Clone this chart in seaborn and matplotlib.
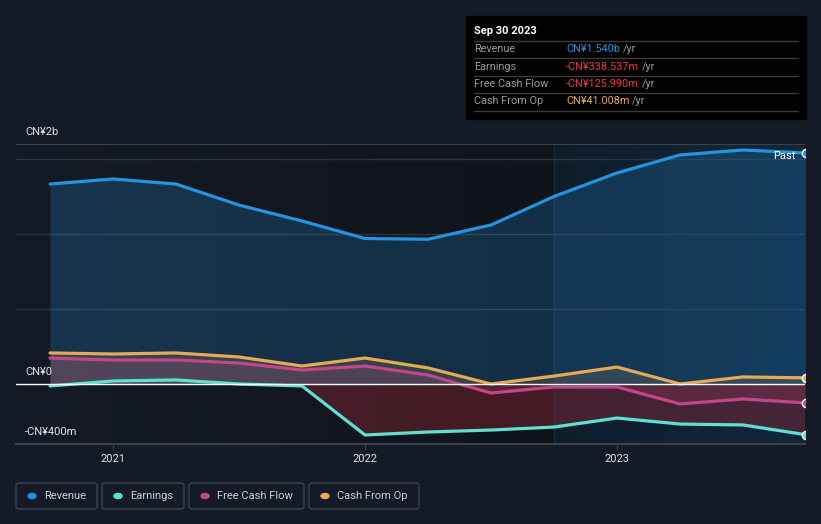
import matplotlib
matplotlib.use('agg')
import matplotlib.pyplot as plt
import seaborn as sns
import pandas as pd
import numpy as np
from matplotlib.patches import FancyBboxPatch, Rectangle
from matplotlib.colors import LinearSegmentedColormap

# quarterly values (CN¥ billions), Sep 2020 .. Sep 2023
quarters = [2020.75, 2021.0, 2021.25, 2021.5, 2021.75, 2022.0, 2022.25,
            2022.5, 2022.75, 2023.0, 2023.25, 2023.5, 2023.75]
revenue = [1.333, 1.367, 1.333, 1.193, 1.087, 0.970, 0.965,
           1.060, 1.250, 1.407, 1.527, 1.560, 1.540]
earnings = [-0.013, 0.020, 0.027, 0.000, -0.013, -0.340, -0.320,
            -0.307, -0.287, -0.227, -0.267, -0.273, -0.3385]
free_cash_flow = [0.173, 0.160, 0.160, 0.140, 0.093, 0.120, 0.060,
                  -0.060, -0.020, -0.020, -0.133, -0.100, -0.126]
cash_from_op = [0.207, 0.200, 0.207, 0.180, 0.120, 0.173, 0.107,
                0.000, 0.053, 0.113, 0.000, 0.047, 0.041]

year_ticks = [2021, 2022, 2023]
series_names = ['Revenue', 'Earnings', 'Free Cash Flow', 'Cash From Op']
colors = ['#2394df', '#5fe0d0', '#c2468a', '#e5a957']
tooltip_values = ['CN¥1.540b', '-CN¥338.537m', '-CN¥125.990m', 'CN¥41.008m']
tooltip_colors = ['#2394df', '#f03a3a', '#f03a3a', '#e5a957']

bg = '#151b26'
df = pd.DataFrame({'date': quarters * 4,
                   'value': revenue + earnings + free_cash_flow + cash_from_op,
                   'series': np.repeat(series_names, len(quarters))})

sns.set_style('dark')
plt.rcParams['font.family'] = ['Roboto', 'DejaVu Sans']

fig = plt.figure(figsize=(8.21, 5.24), dpi=100, facecolor=bg)
ax = fig.add_axes([16/821, 80/524, 789/821, 300/524])
ax.set_facecolor(bg)
xmin, xmax = 2020.615, 2023.746
ax.set_xlim(xmin, xmax)
ax.set_ylim(-0.4, 1.6)

# background: fading dark area, then last-year highlight
grad = LinearSegmentedColormap.from_list('g', [bg, '#0f131a'])
ax.imshow(np.linspace(0, 1, 256).reshape(1, -1), cmap=grad, aspect='auto',
          extent=[xmin, 2022.75, -0.4, 1.6], zorder=0)
hl = LinearSegmentedColormap.from_list('h', ['#0f1d2b', '#12263a'])
ax.imshow(np.linspace(0, 1, 256).reshape(1, -1), cmap=hl, aspect='auto',
          extent=[2022.75, xmax, -0.4, 1.6], zorder=0)
ax.axvline(2022.75, color='#1b2a3a', lw=1, zorder=0.5)

for y in [0.5, 1.0, 1.5]:
    ax.axhline(y, color='#2c3440', lw=1, zorder=1)

# fills
ax.fill_between(quarters, revenue, 0, color='#2394df', alpha=0.22, lw=0, zorder=2)
ax.fill_between(quarters, cash_from_op, 0, color='#e5a957', alpha=0.15, lw=0, zorder=2)
ax.fill_between(quarters, free_cash_flow, 0, color='#c2468a', alpha=0.2, lw=0, zorder=2)
ax.fill_between(quarters, earnings, 0, where=[e < 0.001 for e in earnings],
                interpolate=True, color='#a82a38', alpha=0.35, lw=0, zorder=2)

sns.lineplot(data=df, x='date', y='value', hue='series', palette=colors,
             hue_order=series_names, lw=2.3, legend=False, ax=ax, zorder=4)
for ln in ax.lines:
    ln.set_solid_joinstyle('round')

for vals, c in zip([revenue, earnings, free_cash_flow, cash_from_op], colors):
    ax.plot(quarters[-1], vals[-1], 'o', ms=6, mfc=c, mec='white', mew=1, zorder=6)

ax.axhline(0, color='#ffffff', lw=1, zorder=5)
ax.axhline(1.6, color='#3a414c', lw=1.5, zorder=5)

for s in ['top', 'right', 'left']:
    ax.spines[s].set_visible(False)
ax.spines['bottom'].set_color('#3a414c')
ax.spines['bottom'].set_linewidth(1.5)
ax.set_yticks([])
ax.set_xticks(year_ticks)
ax.set_xticklabels([str(y) for y in year_ticks], color='#e0e0e0', fontsize=8)
ax.tick_params(axis='x', length=4, color='#3a414c', pad=3, bottom=True)
ax.set_xlabel('')
ax.set_ylabel('')
ax.grid(False)

# y labels
for txt, y in [('CN¥2b', 132), ('CN¥0', 372), ('-CN¥400m', 432)]:
    fig.text(25/821, 1 - y/524, txt, color='#e0e0e0', fontsize=8, va='center')
ax.text(2023.71, 1.52, 'Past', color='white', fontsize=8, ha='right', va='center', zorder=7)

# tooltip
fig.patches.append(Rectangle((466/821, 1 - 119/524), 340/821, 103/524,
                             transform=fig.transFigure, color='#000000', zorder=10))
fig.text(474/821, 1 - 31/524, 'Sep 30 2023', color='white', fontsize=8,
         fontweight='bold', va='center', zorder=11)
for i, (name, val, c) in enumerate(zip(series_names, tooltip_values, tooltip_colors)):
    yc = 49 + i * 17.5
    line_y = 1 - (yc - 8.5) / 524
    fig.lines.append(plt.Line2D([474/821, 798/821], [line_y, line_y], transform=fig.transFigure,
                                color='#3a3a3a', lw=1, zorder=11))
    fig.text(474/821, 1 - yc/524, name, color='#9a9a9a', fontsize=7.8, va='center', zorder=11)
    t = fig.text(566/821, 1 - yc/524, val, color=c, fontsize=7.8, va='center', zorder=11)
    fig.canvas.draw()
    bb = t.get_window_extent()
    fig.text(bb.x1/821 + 3/821, 1 - yc/524, '/yr', color='#9a9a9a', fontsize=7.8,
             va='center', zorder=11)
last_y = 1 - (49 + 3 * 17.5 + 9) / 524
fig.lines.append(plt.Line2D([474/821, 798/821], [last_y, last_y], transform=fig.transFigure,
                            color='#3a3a3a', lw=1, zorder=11))

# legend boxes
boxes = [(16, 81), (102, 82), (189, 115), (309, 110)]
for (x0, w), name, c in zip(boxes, series_names, colors):
    fig.patches.append(FancyBboxPatch((x0/821, 1 - 509/524), w/821, 26/524,
                                      boxstyle='round,pad=0,rounding_size=0.004',
                                      transform=fig.transFigure, fc=bg, ec='#3a414c',
                                      lw=1, zorder=10))
    fig.patches.append(plt.Circle(((x0 + 16)/821, 1 - 496/524), 4/821,
                                  transform=fig.transFigure, color=c, zorder=11))
    fig.text((x0 + 28)/821, 1 - 496/524, name, color='#cfcfcf', fontsize=8,
             va='center', zorder=11)

fig.savefig('out.png', dpi=100, facecolor=bg)
